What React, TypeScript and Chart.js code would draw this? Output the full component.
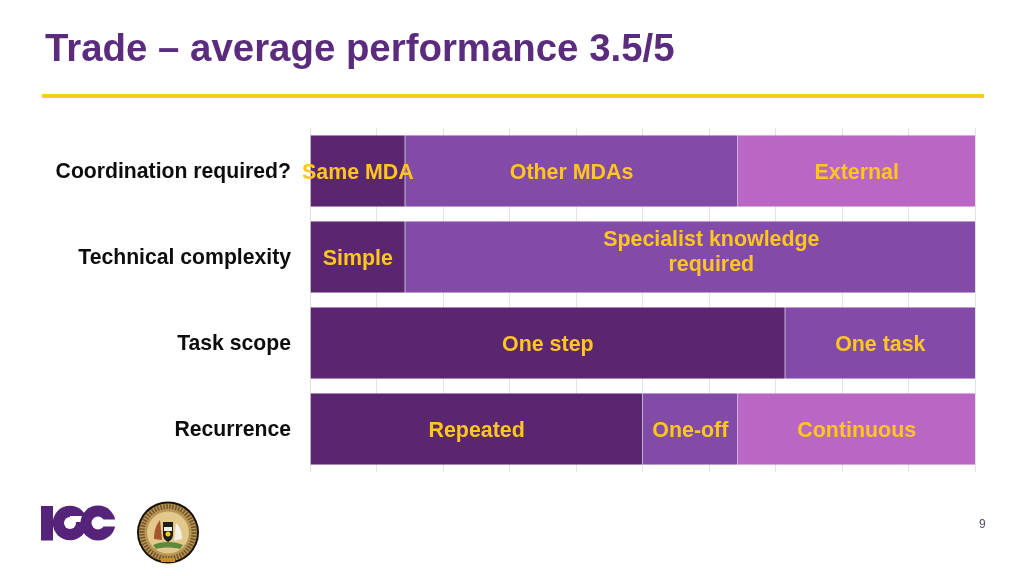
import React, { useEffect, useRef } from "react";
import { Chart, registerables } from "chart.js";

Chart.register(...registerables);

const categories = ["Coordination required?", "Technical complexity", "Task scope", "Recurrence"];
const firstValues = [14.3, 14.3, 71.4, 50];
const secondValues = [50, 85.7, 28.6, 14.3];
const thirdValues: (number | null)[] = [35.7, null, null, 35.7];
const firstLabels = ["Same MDA", "Simple", "One step", "Repeated"];
const secondLabels = ["Other MDAs", "Specialist knowledge\nrequired", "One task", "One-off"];
const thirdLabels = ["External", "", "", "Continuous"];

const DARK = "#5B2670";
const MID = "#824BA8";
const LIGHT = "#B966C4";
const YELLOW = "#FFC61E";
const FONT = '"Liberation Sans", Arial, sans-serif';

const segmentLabels = {
  id: "segmentLabels",
  afterDatasetsDraw(chart: any) {
    const { ctx } = chart;
    ctx.save();
    ctx.fillStyle = YELLOW;
    ctx.font = `bold 21.4px ${FONT}`;
    ctx.textAlign = "center";
    ctx.textBaseline = "middle";
    chart.data.datasets.forEach((ds: any, di: number) => {
      const meta = chart.getDatasetMeta(di);
      meta.data.forEach((bar: any, i: number) => {
        const text = ds.segmentText[i];
        if (!text) return;
        const lines = text.split("\n");
        const multi = lines.length > 1;
        const cx = (bar.x + bar.base) / 2 + (multi ? 21 : 0);
        const lh = 25;
        lines.forEach((l: string, k: number) => {
          ctx.fillText(l, cx, bar.y + (multi ? -4 : 2) + (k - (lines.length - 1) / 2) * lh);
        });
      });
    });
    ctx.restore();
    // the y tick labels (z: 1) are painted next: they sit 1px lower than the default
    ctx.save();
    ctx.translate(0, 1);
  },
  afterDraw(chart: any) {
    chart.ctx.restore();
  },
};

export default function App() {
  const ref = useRef<HTMLCanvasElement>(null);
  useEffect(() => {
    document.body.style.margin = "0";
    const edge = "rgba(225,190,235,0.55)";
    const chart = new Chart(ref.current!, {
      type: "bar",
      data: {
        labels: categories,
        datasets: [
          { data: firstValues, backgroundColor: DARK, borderColor: edge, borderWidth: 0.5, segmentText: firstLabels } as any,
          { data: secondValues, backgroundColor: MID, borderColor: edge, borderWidth: 0.5, segmentText: secondLabels } as any,
          { data: thirdValues, backgroundColor: LIGHT, borderColor: edge, borderWidth: 0.5, segmentText: thirdLabels } as any,
        ],
      },
      options: {
        indexAxis: "y",
        responsive: false,
        animation: false,
        layout: { padding: { top: 128, right: 48.5, bottom: 104, left: 0 } },
        datasets: { bar: { categoryPercentage: 72 / 86, barPercentage: 1 } },
        plugins: { legend: { display: false }, tooltip: { enabled: false } },
        scales: {
          x: {
            stacked: true,
            min: 0,
            max: 100,
            ticks: { display: false, stepSize: 10 },
            border: { display: false },
            grid: { color: "#E2E2E2", lineWidth: 1, drawTicks: false },
          },
          y: {
            stacked: true,
            afterFit(axis: any) { axis.width = 310; },
            grid: { display: false },
            border: { display: false },
            ticks: {
              color: "#0d0d0d",
              padding: 11,
              z: 1,
              font: { family: FONT, size: 21.2, weight: "bold" },
            },
          },
        },
      } as any,
      plugins: [segmentLabels],
    });
    return () => chart.destroy();
  }, []);

  return (
    <div style={{ position: "relative", width: 1024, height: 576, background: "#fff", overflow: "hidden" }}>
      <canvas ref={ref} width={1024} height={576} style={{ position: "absolute", left: 0, top: 0 }} />
      <div style={{ position: "absolute", left: 45, top: 26, fontFamily: FONT, fontWeight: 700, fontSize: 38.4, lineHeight: "44px", color: "#5B2C7E", whiteSpace: "nowrap" }}>
        Trade – average performance 3.5/5
      </div>
      <div style={{ position: "absolute", left: 42, top: 94, width: 942, height: 4, background: "#F8CE1E" }} />
      <div style={{ position: "absolute", left: 979, top: 517, fontFamily: FONT, fontSize: 12, color: "#5B4A6B" }}>9</div>
      <svg width={180} height={80} style={{ position: "absolute", left: 30, top: 495 }} viewBox="0 0 180 80">
        <rect x={11} y={11} width={12} height={34.5} fill="#55237A" />
        <circle cx={40} cy={28} r={17.3} fill="#55237A" />
        <circle cx={40} cy={28} r={6} fill="#fff" />
        <rect x={40} y={21} width={18} height={6} fill="#fff" />
        <circle cx={68} cy={28} r={17.5} fill="#55237A" />
        <circle cx={68} cy={28} r={6.5} fill="#fff" />
        <rect x={68} y={24.5} width={19} height={7} fill="#fff" />
        <circle cx={138} cy={37.5} r={31} fill="#1a1208" />
        <circle cx={138} cy={37.5} r={29} fill="#B89455" />
        <circle cx={138} cy={37.5} r={26} fill="none" stroke="#6e5428" strokeWidth={5} strokeDasharray="1.5 1.5" />
        <circle cx={138} cy={37.5} r={21} fill="#E3C88C" />
        <path d="M133 27h10v12c0 5-3 7-5 8-2-1-5-3-5-8z" fill="#1d1d1d" />
        <rect x={134} y={32} width={8} height={4} fill="#F2F0E8" />
        <circle cx={138} cy={39} r={2.5} fill="#F2C81E" />
        <path d="M124 44c0-8 2-14 6-19l2 20z" fill="#A5562A" />
        <path d="M152 44c0-8-2-12-6-16l-2 18z" fill="#F4F0E4" />
        <path d="M123 50c8-4 22-4 30 0l-3 4c-7-2-17-2-24 0z" fill="#5C8A3A" />
        <rect x={131} y={63} width={14} height={4} fill="#C9901E" />
      </svg>
    </div>
  );
}
